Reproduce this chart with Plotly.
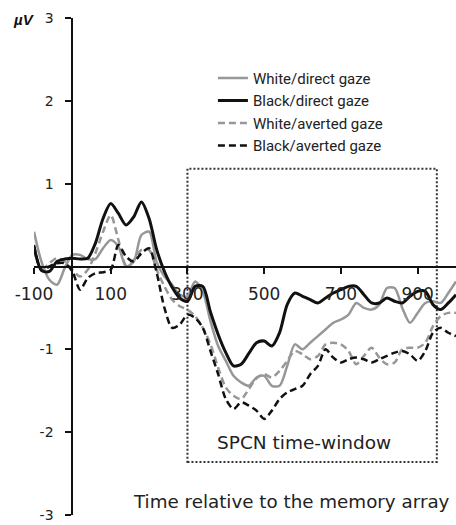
import plotly.graph_objects as go

# time points (ms)
time_ms = [-100, -80, -60, -40, -20, 0, 20, 40, 60, 80, 100, 120, 140, 160, 180, 200,
           220, 240, 260, 280, 300, 320, 340, 360, 380, 400, 420, 440, 460, 480, 500,
           520, 540, 560, 580, 600, 620, 640, 660, 680, 700, 720, 740, 760, 780, 800,
           820, 840, 860, 880, 900, 920, 940, 960, 980, 1000]

white_direct = [0.42, 0.05, -0.16, -0.22, -0.02, 0.14, 0.14, 0.09, 0.09, 0.22, 0.32, 0.24,
                0.00, 0.06, 0.38, 0.42, 0.05, -0.12, -0.22, -0.34, -0.36, -0.18, -0.30,
                -0.66, -0.96, -1.14, -1.32, -1.40, -1.44, -1.34, -1.32, -1.44, -1.44,
                -1.20, -0.94, -1.00, -0.92, -0.84, -0.76, -0.68, -0.64, -0.58, -0.44,
                -0.50, -0.52, -0.46, -0.26, -0.26, -0.50, -0.68, -0.56, -0.44, -0.42,
                -0.44, -0.32, -0.18]

black_direct = [0.24, -0.05, -0.06, 0.06, 0.09, 0.10, 0.09, 0.10, 0.28, 0.58, 0.76, 0.64,
                0.50, 0.60, 0.78, 0.58, 0.20, -0.06, -0.25, -0.38, -0.42, -0.24, -0.24,
                -0.55, -0.82, -1.04, -1.20, -1.18, -1.05, -0.92, -0.90, -0.96, -0.80,
                -0.46, -0.32, -0.36, -0.40, -0.44, -0.38, -0.32, -0.28, -0.24, -0.24,
                -0.34, -0.44, -0.44, -0.38, -0.42, -0.44, -0.36, -0.30, -0.30, -0.46,
                -0.52, -0.44, -0.34]

white_averted = [0.20, -0.04, 0.04, 0.10, 0.06, -0.04, -0.12, -0.04, 0.16, 0.42, 0.62, 0.32,
                 0.02, 0.08, 0.20, 0.20, -0.04, -0.24, -0.40, -0.48, -0.52, -0.60, -0.74,
                 -0.94, -1.22, -1.46, -1.56, -1.60, -1.48, -1.35, -1.30, -1.34, -1.26,
                 -1.14, -1.02, -1.06, -1.12, -1.08, -0.94, -0.92, -0.94, -1.02, -1.18,
                 -1.08, -0.98, -1.10, -1.18, -1.16, -1.00, -0.98, -0.98, -0.92, -0.72,
                 -0.60, -0.56, -0.56]

black_averted = [0.26, -0.05, 0.00, 0.04, 0.04, -0.06, -0.28, -0.14, -0.08, -0.07, -0.04,
                 0.26, 0.12, 0.06, 0.16, 0.22, -0.08, -0.50, -0.74, -0.70, -0.58, -0.62,
                 -0.74, -1.02, -1.30, -1.60, -1.72, -1.64, -1.68, -1.74, -1.84, -1.74,
                 -1.60, -1.52, -1.48, -1.44, -1.30, -1.20, -1.00, -1.10, -1.16, -1.12,
                 -1.10, -1.12, -1.16, -1.12, -1.08, -1.04, -1.02, -1.06, -1.14, -1.02,
                 -0.80, -0.74, -0.80, -0.84]

series_names = ["White/direct gaze", "Black/direct gaze", "White/averted gaze", "Black/averted gaze"]
x_tick_vals = [-100, 100, 300, 500, 700, 900]
x_tick_text = ["-100", "100", "300", "500", "700", "900"]
y_tick_vals = [-3, -2, -1, 1, 2, 3]
y_tick_text = ["-3", "-2", "-1", "1", "2", "3"]
window_ms = [300, 950]
window_uv = [-2.36, 1.18]

X_RANGE = [-100, 1000]
Y_RANGE = [-3, 3]

fig = go.Figure()

GRAY = "#979797"
styles = [
    (white_direct, series_names[0], GRAY, 2.5, "solid", 1),
    (white_averted, series_names[2], GRAY, 2.5, "7px,4px", 3),
    (black_direct, series_names[1], "#111111", 3, "solid", 2),
    (black_averted, series_names[3], "#111111", 2.5, "7px,4px", 4),
]
for vals, name, col, w, dash, rank in styles:
    fig.add_trace(go.Scatter(
        x=time_ms, y=vals, mode="lines", name=name, legendrank=rank,
        line=dict(color=col, width=w, dash=dash, shape="spline", smoothing=0.8),
    ))

fig.add_shape(type="rect", x0=window_ms[0], x1=window_ms[1], y0=window_uv[0], y1=window_uv[1],
              xref="x", yref="y", line=dict(color="#333333", width=2, dash="2px,2px"),
              layer="below")

fig.add_annotation(x=604, y=-2.12, xref="x", yref="y", text="SPCN time-window",
                   showarrow=False, font=dict(family="DejaVu Sans", size=18.5, color="#222222"))
fig.add_annotation(x=572, y=-2.84, xref="x", yref="y", text="Time relative to the memory array",
                   showarrow=False, font=dict(family="DejaVu Sans", size=18.3, color="#222222"))
fig.add_annotation(x=(24 - 34) / 422, y=1 - (19 - 18) / 497, xref="paper", yref="paper",
                   xanchor="center", yanchor="middle", text="<b><i>µV</i></b>",
                   showarrow=False, font=dict(family="Liberation Sans", size=15, color="#111111"))

y_pos = (0 - Y_RANGE[0]) / (Y_RANGE[1] - Y_RANGE[0])
x_pos = (0 - X_RANGE[0]) / (X_RANGE[1] - X_RANGE[0])

fig.update_layout(
    width=456, height=525,
    margin=dict(l=34, r=0, t=18, b=10),
    paper_bgcolor="white", plot_bgcolor="white",
    showlegend=True,
    legend=dict(x=0.424, y=0.912, xanchor="left", yanchor="top",
                font=dict(family="Roboto", size=15, color="#222222"),
                bgcolor="rgba(0,0,0,0)"),
    xaxis=dict(range=X_RANGE, anchor="free", position=y_pos, showline=True,
               linecolor="#111111", linewidth=2, ticks="outside", ticklen=6,
               tickwidth=2, tickcolor="#111111", tickvals=x_tick_vals, ticktext=x_tick_text,
               ticklabelstandoff=6, automargin=False,
               tickfont=dict(family="DejaVu Sans", size=17, color="#222222"),
               showgrid=False, zeroline=False),
    yaxis=dict(range=Y_RANGE, anchor="free", position=x_pos, showline=True,
               linecolor="#111111", linewidth=2, ticks="outside", ticklen=6,
               tickwidth=2, tickcolor="#111111", tickvals=y_tick_vals, ticktext=y_tick_text,
               ticklabelstandoff=9, automargin=False,
               tickfont=dict(family="DejaVu Sans", size=14, color="#222222"),
               showgrid=False, zeroline=False),
)

fig.write_html("out.html", config={"displayModeBar": False},
               post_script="document.body.style.margin='0';")
